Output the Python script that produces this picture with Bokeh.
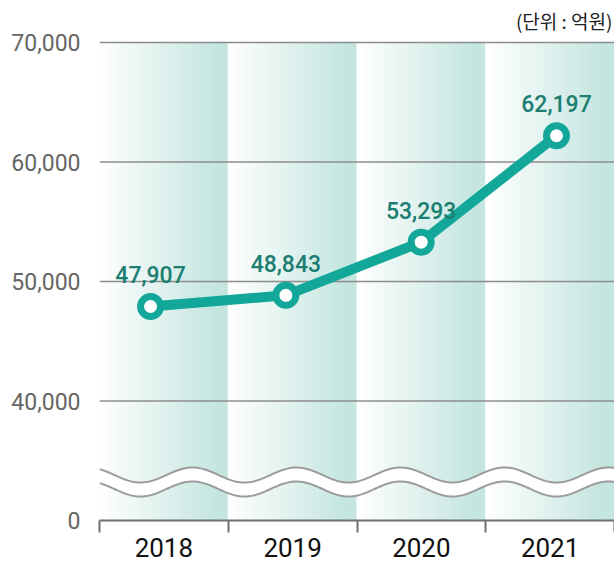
import numpy as np
from bokeh.plotting import figure
from bokeh.models import FixedTicker, Range1d, ColumnDataSource
from bokeh.core.properties import value
from bokeh.embed import file_html
from bokeh.resources import INLINE

# ---- data ----
years = ["2018", "2019", "2020", "2021"]
amounts = [47907, 48843, 53293, 62197]
amount_labels = ["47,907", "48,843", "53,293", "62,197"]
y_tick_values = [30000, 40000, 50000, 60000, 70000]
y_tick_labels = ["0", "40,000", "50,000", "60,000", "70,000"]
grid_values = [40000, 50000, 60000, 70000]
unit_label = "(단위 : 억원)"

# ---- style ----
TEAL = "#13a79a"
LABEL_TEAL = "#1d7f72"
COL_RIGHT = (197, 230, 224)
GRID = "#8c8c8c"
WAVE = "#9b9b9b"
NUM_FONT = "Roboto"
LABEL_FONT = "Roboto Medium"
KR_FONT = "Noto Sans CJK KR"

n_cat = len(years)
Y_BOTTOM = 30000      # axis position (labelled "0" because of the scale break)
Y_TOP = 73515
p = figure(width=614, height=561, output_backend="svg", toolbar_location=None,
           x_range=Range1d(0, n_cat), y_range=Range1d(Y_BOTTOM, Y_TOP),
           min_border_left=99, min_border_right=0, min_border_top=0,
           min_border_bottom=41)
p.outline_line_color = None
p.grid.visible = False
p.background_fill_color = "white"

# gradient columns (white -> light teal), built from thin strips
n_strips = 48
lefts, rights, colors = [], [], []
for i in range(n_cat):
    edges = np.linspace(i, i + 1, n_strips + 1)
    for k in range(n_strips):
        t = min(1.0, (k + 0.5) / n_strips / 0.9)
        r = int(round(255 + (COL_RIGHT[0] - 255) * t))
        g = int(round(255 + (COL_RIGHT[1] - 255) * t))
        b = int(round(255 + (COL_RIGHT[2] - 255) * t))
        lefts.append(edges[k])
        rights.append(edges[k + 1])
        colors.append("#%02x%02x%02x" % (r, g, b))
strip_src = ColumnDataSource(dict(left=lefts, right=rights, color=colors))
p.quad(left="left", right="right", bottom=Y_BOTTOM, top=grid_values[-1],
       fill_color="color", line_color="color", line_width=1, source=strip_src)

# horizontal grid lines
p.segment(x0=[0] * len(grid_values), x1=[n_cat] * len(grid_values),
          y0=grid_values, y1=grid_values, line_color=GRID, line_width=1.6)

# scale-break wave
xw = np.linspace(0, n_cat, 500)
phase = 2 * np.pi * (xw - 0.722) / 0.808
upper = 33808 + 628 * np.cos(phase)
lower = 32636 + 628 * np.cos(phase)
p.varea(x=xw, y1=lower, y2=upper, fill_color="white")
p.line(xw, upper, line_color=WAVE, line_width=2)
p.line(xw, lower, line_color=WAVE, line_width=2)

# series
pt_x = 1.973 + (np.arange(n_cat) - 1.5) * 1.051
src = ColumnDataSource(dict(x=pt_x, y=amounts, lab=amount_labels))
p.line("x", "y", source=src, line_color=TEAL, line_width=10, line_join="round")
p.scatter("x", "y", source=src, size=20, fill_color="white", line_color=TEAL,
          line_width=7)
p.text("x", "y", text="lab", source=src, y_offset=-32, text_align="center",
       text_baseline="middle", text_font=value(LABEL_FONT),
       text_font_size="23px", text_color=LABEL_TEAL)

# unit label
p.text(x=[n_cat], y=[71841], text=[unit_label], x_offset=-2, text_align="right",
       text_baseline="middle", text_font=value(KR_FONT), text_font_size="19px",
       text_color="#222222")

# x axis
xa = p.xaxis[0]
xa.ticker = FixedTicker(ticks=[i + 0.5 for i in range(n_cat)],
                        minor_ticks=list(range(n_cat + 1)))
xa.major_label_overrides = {i + 0.5: years[i] for i in range(n_cat)}
xa.axis_line_color = "#6f6f6f"
xa.axis_line_width = 2
xa.major_tick_line_color = None
xa.major_tick_out = 0
xa.major_tick_in = 0
xa.minor_tick_line_color = "#6f6f6f"
xa.minor_tick_line_width = 2
xa.minor_tick_out = 12
xa.minor_tick_in = 0
xa.major_label_standoff = 5
xa.major_label_text_font = NUM_FONT
xa.major_label_text_font_size = "26px"
xa.major_label_text_color = "#111111"

# y axis
ya = p.yaxis[0]
ya.ticker = FixedTicker(ticks=y_tick_values)
ya.major_label_overrides = {v: l for v, l in zip(y_tick_values, y_tick_labels)}
ya.axis_line_color = None
ya.major_tick_line_color = None
ya.major_tick_out = 0
ya.major_tick_in = 0
ya.minor_tick_line_color = None
ya.major_label_standoff = 19
ya.major_label_text_font = NUM_FONT
ya.major_label_text_font_size = "23px"
ya.major_label_text_color = "#666666"

open("out.html", "w").write(file_html(p, INLINE))
